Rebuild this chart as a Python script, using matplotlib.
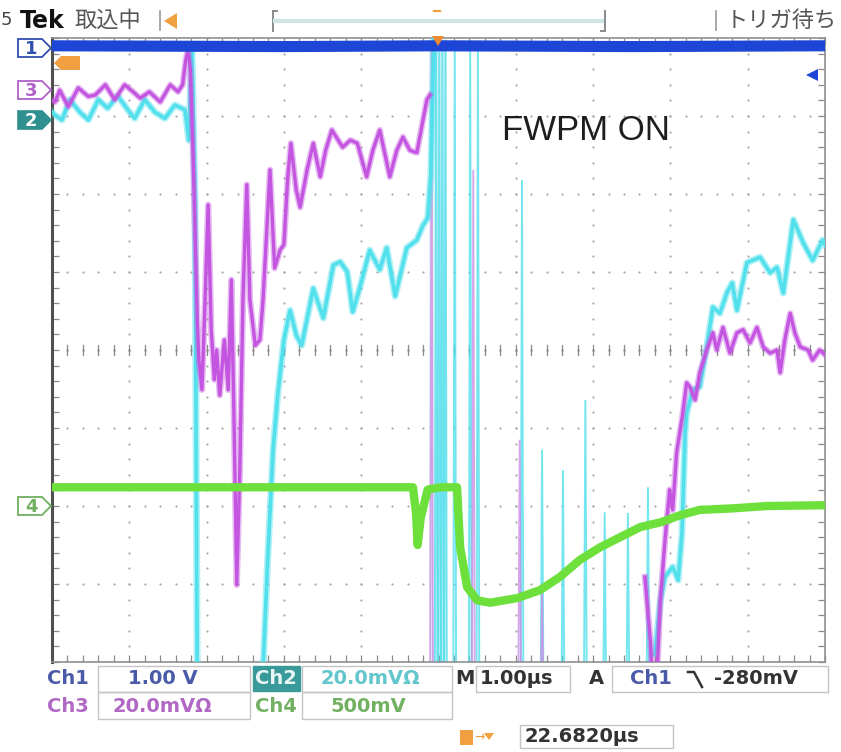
import numpy as np
import matplotlib
matplotlib.use("Agg")
import matplotlib.pyplot as plt
from matplotlib.patches import Polygon, Rectangle
from matplotlib.lines import Line2D
from matplotlib.ticker import MultipleLocator

W, H = 841, 752

# ---- traces: time in µs from trigger, value in screen divisions ----
ch1_t = [-5.0, -2.0, 0.0, 2.5, 5.0]
ch1_v = [3.90, 3.89, 3.90, 3.89, 3.90]

ch3_pre_t = [-5.00, -4.96, -4.90, -4.79, -4.66, -4.53, -4.44, -4.31, -4.19, -4.06,
             -3.94, -3.86, -3.74, -3.60, -3.47, -3.37, -3.31, -3.27, -3.24, -3.21,
             -3.18, -3.15, -3.12, -3.10, -3.06, -3.02, -2.98, -2.94, -2.90, -2.87,
             -2.83, -2.77, -2.72, -2.68, -2.65, -2.61, -2.57, -2.53, -2.48, -2.44,
             -2.37, -2.31, -2.27, -2.18, -2.12, -2.05, -2.00, -1.95, -1.91, -1.84,
             -1.79, -1.70, -1.62, -1.53, -1.46, -1.38, -1.24, -1.14, -1.05, -0.93,
             -0.85, -0.76, -0.63, -0.54, -0.46, -0.37, -0.28, -0.20, -0.15, -0.11]
ch3_pre_v = [3.20, 3.18, 3.33, 3.12, 3.36, 3.25, 3.27, 3.40, 3.21, 3.40,
             3.30, 3.23, 3.31, 3.18, 3.40, 3.31, 3.40, 3.72, 3.85, 3.59,
             2.69, 1.54, 0.38, -0.13, -0.51, 0.64, 1.86, 0.26, -0.38, 0.00,
             -0.58, 0.13, -0.51, 0.90, -0.64, -3.01, -1.54, 0.64, 2.12, 0.64,
             0.06, 0.13, 0.64, 2.31, 1.05, 1.28, 1.35, 2.21, 2.65, 2.05,
             1.83, 2.31, 2.65, 2.22, 2.56, 2.82, 2.60, 2.69, 2.65, 2.22,
             2.56, 2.82, 2.22, 2.56, 2.73, 2.56, 2.53, 2.95, 3.21, 3.27]

ch3_post_t = [2.67, 2.74, 2.76, 2.83, 2.87, 2.93, 2.99, 3.03, 3.08, 3.16,
              3.21, 3.25, 3.32, 3.38, 3.47, 3.55, 3.60, 3.68, 3.77, 3.86,
              3.94, 4.03, 4.12, 4.20, 4.29, 4.38, 4.42, 4.48, 4.55, 4.61,
              4.68, 4.78, 4.84, 4.93, 5.00]
ch3_post_v = [-2.91, -3.72, -4.10, -4.10, -3.21, -2.44, -1.79, -2.05, -1.32, -0.81,
              -0.42, -0.47, -0.64, -0.29, 0.00, 0.22, 0.00, 0.29, -0.04, 0.22,
              0.26, 0.09, 0.29, 0.04, -0.04, 0.00, -0.29, 0.13, 0.47, 0.22,
              0.04, 0.00, -0.13, 0.00, -0.06]

ch3_spike_t = [-0.09, 0.45, 1.05, 1.34]
ch3_spike_top = [3.97, 2.31, -1.15, -3.12]

ch2_pre_t = [-5.00, -4.96, -4.87, -4.77, -4.64, -4.53, -4.40, -4.28, -4.15, -4.02,
             -3.93, -3.80, -3.67, -3.54, -3.41, -3.28, -3.23, -3.19, -3.15, -3.12,
             -2.70, -2.31, -2.27, -2.21, -2.14, -2.08, -2.00, -1.92, -1.84, -1.77,
             -1.62, -1.49, -1.36, -1.27, -1.18, -1.11, -1.02, -0.89, -0.76, -0.67,
             -0.56, -0.41, -0.28, -0.20, -0.14, -0.10, -0.06]
ch2_pre_v = [3.05, 3.01, 2.95, 3.21, 3.05, 2.95, 3.21, 3.10, 3.26, 3.08,
             2.97, 3.21, 3.05, 2.97, 3.14, 3.08, 2.69, 3.91, 1.92, -4.49,
             -4.50, -4.50, -4.10, -2.69, -1.28, -0.58, 0.13, 0.51, 0.19, 0.06,
             0.79, 0.41, 1.09, 1.13, 1.00, 0.49, 0.79, 1.28, 1.03, 1.31,
             0.69, 1.31, 1.41, 1.60, 1.69, 2.24, 3.97]

ch2_post_t = [2.80, 2.87, 2.93, 3.03, 3.10, 3.15, 3.19, 3.21, 3.29, 3.38,
              3.47, 3.55, 3.64, 3.73, 3.80, 3.86, 3.99, 4.16, 4.29, 4.38,
              4.46, 4.59, 4.72, 4.84, 4.97, 5.00]
ch2_post_v = [-3.90, -3.21, -2.91, -2.78, -2.95, -2.35, -1.06, -0.81, -0.51, -0.47,
              0.04, 0.55, 0.47, 0.73, 0.86, 0.51, 1.12, 1.19, 0.99, 1.06,
              0.73, 1.67, 1.37, 1.15, 1.41, 1.35]

ch2_spike_t = [-0.03, 0.01, 0.05, 0.09, 0.21, 0.41, 0.51, 1.08, 1.34, 1.61,
               1.90, 2.15, 2.45, 2.71]
ch2_spike_top = [3.97, 3.97, 3.97, 3.97, 3.97, 3.97, 3.97, 2.18, -1.28, -1.54,
                 -0.64, -2.08, -2.09, -1.76]

ch4_t = [-5.00, -0.33, -0.29, -0.27, -0.23, -0.19, -0.14, 0.02, 0.24, 0.28,
         0.37, 0.50, 0.67, 1.02, 1.31, 1.57, 1.83, 2.09, 2.35, 2.61,
         2.87, 3.12, 3.38, 3.81, 4.25, 5.00]
ch4_v = [-1.76, -1.76, -2.10, -2.50, -2.15, -1.99, -1.79, -1.76, -1.76, -2.53,
         -3.04, -3.21, -3.24, -3.18, -3.08, -2.91, -2.69, -2.53, -2.40, -2.27,
         -2.21, -2.12, -2.05, -2.03, -2.00, -1.99]

# ---- colours ----
C1 = "#1d46d6"
C2 = "#52e0ec"
C3 = "#c455e0"
C4 = "#6ee03c"
GRID = "#a8a8a8"

fig = plt.figure(figsize=(W / 100, H / 100), dpi=100)
fig.patch.set_facecolor("white")
ax = fig.add_axes([52 / W, 1 - 662 / H, 773 / W, 624 / H])
ax.set_xlim(-5, 5)
ax.set_ylim(-4, 4)
ax.set_facecolor("white")

# frame and edge ticks
for side in ("top", "right", "bottom"):
    ax.spines[side].set_color("#909090")
    ax.spines[side].set_linewidth(1.2)
ax.spines["left"].set_color("#505050")
ax.spines["left"].set_linewidth(2.2)
ax.xaxis.set_major_locator(MultipleLocator(1.0))
ax.yaxis.set_major_locator(MultipleLocator(1.0))
ax.xaxis.set_minor_locator(MultipleLocator(0.2))
ax.yaxis.set_minor_locator(MultipleLocator(0.2))
ax.tick_params(which="both", direction="in", length=5, width=0.9, color="#8a8a8a",
               top=True, right=True, bottom=True, left=True,
               labelbottom=False, labelleft=False)

# dotted graticule
sub_v = np.arange(-4, 4.001, 0.2)
sub_t = np.arange(-5, 5.001, 0.2)
for gx in range(-4, 5):
    if gx != 0:
        ax.scatter(np.full_like(sub_v, gx), sub_v, s=2.5, color=GRID, lw=0, zorder=1)
for gy in range(-3, 4):
    if gy != 0:
        ax.scatter(sub_t, np.full_like(sub_t, gy), s=2.5, color=GRID, lw=0, zorder=1)
# centre crosshair with tick marks
for tt in sub_t:
    ax.plot([tt, tt], [-0.06, 0.06], color="#8a8a8a", lw=0.9, zorder=1)
for vv in sub_v:
    ax.plot([-0.07, 0.07], [vv, vv], color="#8a8a8a", lw=0.9, zorder=1)
ax.scatter(sub_t, np.zeros_like(sub_t), s=3, color="#8a8a8a", lw=0, zorder=1)

# trigger zone tint
ax.axvspan(-0.12, 0.11, color="#e4f4f8", zorder=1, lw=0)


def spikes(ts, tops, color, lw, alpha):
    for st, top in zip(ts, tops):
        ax.plot([st - 0.018, st, st + 0.018], [-4.4, top, -4.4], color=color,
                lw=lw, alpha=alpha, zorder=2, solid_joinstyle="miter")


spikes(ch2_spike_t, ch2_spike_top, C2, 1.4, 0.8)
spikes(ch3_spike_t, ch3_spike_top, "#cf8de6", 1.3, 0.8)

# cyan (Ch2)
for tt, vv in ((ch2_pre_t, ch2_pre_v), (ch2_post_t, ch2_post_v)):
    ax.plot(tt, vv, color=C2, lw=5.0, alpha=0.45, zorder=3, solid_joinstyle="round")
    ax.plot(tt, vv, color=C2, lw=2.6, zorder=3, solid_joinstyle="round")
# magenta (Ch3)
for tt, vv in ((ch3_pre_t, ch3_pre_v), (ch3_post_t, ch3_post_v)):
    ax.plot(tt, vv, color=C3, lw=4.6, alpha=0.4, zorder=4, solid_joinstyle="round")
    ax.plot(tt, vv, color=C3, lw=2.4, zorder=4, solid_joinstyle="round")
# green (Ch4)
ax.plot(ch4_t, ch4_v, color=C4, lw=6.0, zorder=5, solid_joinstyle="round",
        solid_capstyle="butt")
# blue (Ch1)
ax.plot(ch1_t, ch1_v, color=C1, lw=8.0, zorder=6, solid_capstyle="butt")

fig.text(586 / W, 1 - 131 / H, "FWPM ON", ha="center", va="center",
         fontsize=25, family="Liberation Sans", color="#1e1e1e")


# ---- screen furniture in pixel coordinates ----
def P(x, y):
    return (x / W, 1 - y / H)


def ftext(x, y, s, **kw):
    kw.setdefault("va", "center")
    fig.text(x / W, 1 - y / H, s, **kw)


def fpoly(pts, **kw):
    fig.patches.append(Polygon([P(x, y) for x, y in pts], closed=True,
                               transform=fig.transFigure, **kw))


def fline(pts, **kw):
    xs, ys = zip(*[P(x, y) for x, y in pts])
    fig.lines.append(Line2D(xs, ys, transform=fig.transFigure, **kw))


def fbox(x0, y0, x1, y1, **kw):
    fig.patches.append(Rectangle(P(x0, y1), (x1 - x0) / W, (y1 - y0) / H,
                                 transform=fig.transFigure, **kw))


CJK = ["Noto Sans CJK JP", "DejaVu Sans"]

# header
ftext(1, 20, "5", fontsize=13, color="#444444", family="DejaVu Sans")
ftext(20, 21, "Tek", fontsize=17, fontweight="bold", color="#111111", family="DejaVu Sans")
ftext(74, 20, "取込中", fontsize=16, color="#555555", family=CJK)
fline([(160, 11), (160, 30)], color="#9a9a9a", lw=1.2)
fpoly([(164, 21), (177, 13), (177, 29)], facecolor="#f0a040", edgecolor="none")
fline([(273, 11), (273, 31)], color="#8a8a8a", lw=1.4)
fline([(273, 11), (277, 11)], color="#8a8a8a", lw=1.4)
fline([(275, 21), (604, 21)], color="#cfe4e4", lw=3.0)
fline([(605, 11), (605, 31)], color="#8a8a8a", lw=1.4)
fline([(601, 31), (605, 31)], color="#8a8a8a", lw=1.4)
fline([(434, 11), (440, 11)], color="#f0a040", lw=1.6)
fline([(716, 11), (716, 30)], color="#9a9a9a", lw=1.2)
ftext(726, 20, "トリガ待ち", fontsize=16, color="#555555", family=CJK)

# trigger position marker on top edge
fpoly([(432, 36), (444, 36), (438, 46)], facecolor="#f08a30", edgecolor="none", zorder=10)


# channel ground markers
def marker(yc, label, color, filled):
    pts = [(18, yc - 9), (42, yc - 9), (51, yc), (42, yc + 9), (18, yc + 9)]
    if filled:
        fpoly(pts, facecolor=color, edgecolor=color, lw=1.2)
        tc = "white"
    else:
        fpoly(pts, facecolor="white", edgecolor=color, lw=1.3)
        tc = color
    ftext(31, yc + 1, label, ha="center", fontsize=13, fontweight="bold",
          color=tc, family="DejaVu Sans")


marker(48, "1", "#3050b0", False)
marker(90, "3", "#b060c8", False)
marker(120, "2", "#2f9090", True)
marker(506, "4", "#70b060", False)
# trigger level marker
fpoly([(54, 63), (61, 56), (80, 56), (80, 70), (61, 70)], facecolor="#f0a040",
      edgecolor="none", zorder=10)
# right-side level arrow
fpoly([(806, 75), (818, 69), (818, 81)], facecolor=C1, edgecolor="none", zorder=10)

# ---- readouts ----
BOX = "#c4c4c4"
RF = dict(fontsize=14, fontweight="bold", family="DejaVu Sans")
fbox(98, 666, 250, 692, facecolor="none", edgecolor=BOX, lw=1)
fbox(302, 666, 452, 692, facecolor="none", edgecolor=BOX, lw=1)
fbox(476, 666, 570, 692, facecolor="none", edgecolor=BOX, lw=1)
fbox(612, 666, 828, 692, facecolor="none", edgecolor=BOX, lw=1)
fbox(98, 692, 250, 719, facecolor="none", edgecolor=BOX, lw=1)
fbox(302, 692, 452, 719, facecolor="none", edgecolor=BOX, lw=1)
fbox(520, 725, 673, 748, facecolor="none", edgecolor=BOX, lw=1)
fbox(253, 666, 300, 691, facecolor="#3a9a9a", edgecolor="#3a9a9a", lw=1)

ftext(47, 679, "Ch1", color="#4a5aa8", **RF)
ftext(128, 679, "1.00 V", color="#4a5aa8", **RF)
ftext(255, 679, "Ch2", color="#e8f6f6", **RF)
ftext(320, 679, "20.0mVΩ", color="#62c6cc", **RF)
ftext(455, 679, "M", color="#333333", **RF)
ftext(480, 679, "1.00µs", color="#333333", **RF)
ftext(589, 679, "A", color="#333333", **RF)
ftext(630, 679, "Ch1", color="#4a5aa8", **RF)
fline([(688, 672), (694, 672), (702, 687)], color="#333333", lw=1.8)
ftext(714, 679, "-280mV", color="#333333", **RF)
ftext(47, 707, "Ch3", color="#b068c4", **RF)
ftext(112, 707, "20.0mVΩ", color="#b068c4", **RF)
ftext(255, 707, "Ch4", color="#72b062", **RF)
ftext(330, 707, "500mV", color="#72b062", **RF)

fbox(460, 730, 473, 745, facecolor="#f0a040", edgecolor="none")
ftext(474, 737, "→", fontsize=9, color="#f0a040", family="DejaVu Sans")
fpoly([(484, 733), (494, 733), (489, 740)], facecolor="#f0a040", edgecolor="none")
ftext(524, 737, "22.6820µs", color="#333333", **RF)

fig.savefig("out.png", dpi=100, facecolor="white")
